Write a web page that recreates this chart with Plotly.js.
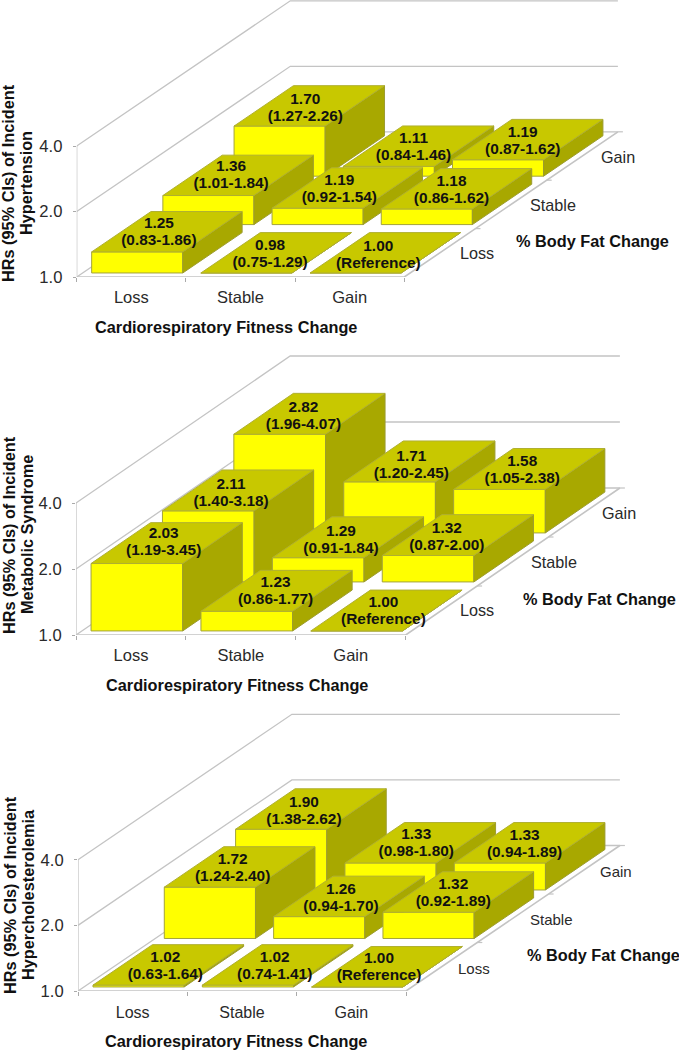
<!DOCTYPE html>
<html><head><meta charset="utf-8">
<script src="https://cdn.plot.ly/plotly-3.0.1.min.js"></script>
<style>html,body{margin:0;padding:0;background:#fff}</style></head>
<body><div id="chart" style="width:679px;height:1050px"></div>
<script>
const fitnessLevels = ['Loss','Stable','Gain'];
const fatLevels = ['Loss','Stable','Gain'];
const yTickValues = [1,2,4];
const yTickLabels = ['1.0','2.0','4.0'];
// rows: body-fat Loss, Stable, Gain; columns: fitness Loss, Stable, Gain
const hypertensionHR = [[1.25,0.98,1.00],[1.36,1.19,1.18],[1.70,1.11,1.19]];
const hypertensionCI = [['(0.83-1.86)','(0.75-1.29)','(Reference)'],['(1.01-1.84)','(0.92-1.54)','(0.86-1.62)'],['(1.27-2.26)','(0.84-1.46)','(0.87-1.62)']];
const metabolicHR = [[2.03,1.23,1.00],[2.11,1.29,1.32],[2.82,1.71,1.58]];
const metabolicCI = [['(1.19-3.45)','(0.86-1.77)','(Reference)'],['(1.40-3.18)','(0.91-1.84)','(0.87-2.00)'],['(1.96-4.07)','(1.20-2.45)','(1.05-2.38)']];
const cholesterolHR = [[1.02,1.02,1.00],[1.72,1.26,1.32],[1.90,1.33,1.33]];
const cholesterolCI = [['(0.63-1.64)','(0.74-1.41)','(Reference)'],['(1.24-2.40)','(0.94-1.70)','(0.92-1.89)'],['(1.38-2.62)','(0.98-1.80)','(0.94-1.89)']];

const W=679,H=1050;
const FONT='"Liberation Sans", Arial, sans-serif';
const GRID='#c4c4c4', TOPC='#c8c800', SIDEC='#a8a800', FRONTC='#ffff00', EDGE='#a3a33c', TXT='#111111', TICKTXT='#2a2a2a';
const panels=[
 {hr:hypertensionHR,ci:hypertensionCI,name:'Hypertension',left:76.7,right:404.3,top:0,bottom:277,unit:65.5,dx:71.2,dy:48.4,
  xLabelY:297,xTitle:[225.5,327],fatTitle:[592,241],yT1:[8,183],yT2:[26,183],zLab:[[477,253],[553,205],[618,157]],zSize:16.2,xSize:16.5,standoff:8,
  nudge:[[[-3,1],[-1,2],[-2,3]],[[-2,0],[-3,2],[0,2]],[[1,2.5],[0,1.5],[0,2]]]},
 {hr:metabolicHR,ci:metabolicCI,name:'Metabolic Syndrome',left:76,right:405.7,top:350,bottom:635,unit:66,dx:71.4,dy:49,
  xLabelY:655,xTitle:[237,685],fatTitle:[599,599],yT1:[9,535],yT2:[27,535],zLab:[[477,610],[554,562],[619,513]],zSize:16.2,xSize:16.5,standoff:8,
  nudge:[[[2,0],[4,1],[2,1]],[[-2,3],[-2,3],[-6,3]],[[-1,3],[-3,4],[-2,2]]]},
 {hr:cholesterolHR,ci:cholesterolCI,name:'Hypercholesterolemia',left:78,right:406,top:708,bottom:991,unit:65.6,dx:71.3,dy:48.5,
  xLabelY:1012,xTitle:[236,1041],fatTitle:[603,955],yT1:[10,895],yT2:[28,895],zLab:[[474,968],[551,919],[616,871]],zSize:15,xSize:16,standoff:10,
  nudge:[[[2,2],[2,2],[-3,1]],[[-2,1.5],[-3,2],[0,2]],[[-2,3],[1,1],[0,2]]]}
];
const traces=[],ann=[],layout={width:W,height:H,margin:{l:0,r:0,t:0,b:0},paper_bgcolor:'#fff',plot_bgcolor:'rgba(0,0,0,0)',showlegend:false,font:{family:FONT},hovermode:false,annotations:ann};
const lab=(text,x,y,size,bold,angle,color)=>ann.push({text:bold?'<b>'+text+'</b>':text,x:x/W,y:1-y/H,xref:'paper',yref:'paper',xanchor:'center',yanchor:'middle',showarrow:false,textangle:angle||0,font:{family:FONT,size:size,color:color||TXT}});

panels.forEach((p,k)=>{
  const id=k?String(k+1):'';
  const xa='x'+id, ya='y'+id;
  const catW=(p.right-p.left)/3;
  const kx=p.dx/catW, ky=p.dy/p.unit;
  // oblique projection of (fitness position, fat position, HR) on the subplot's axes
  const px=(c,z)=>c+z*kx;
  const py=(z,v)=>Math.log2(v)+z*ky;
  const add=(o)=>traces.push(Object.assign({xaxis:xa,yaxis:ya,type:'scatter',cliponaxis:false,hoverinfo:'skip',showlegend:false},o));
  const seg=(pts,color,w)=>add({mode:'lines',x:pts.map(q=>px(q[0],q[1])),y:pts.map(q=>py(q[1],q[2])),line:{color:color,width:w||1.2}});
  const face=(pts,fill,edge)=>add({mode:'lines',fill:'toself',fillcolor:fill,x:pts.map(q=>px(q[0],q[1])),y:pts.map(q=>py(q[1],q[2])),line:{color:edge,width:1}});
  // walls and floor
  yTickValues.forEach(v=>seg([[0,0,v],[0,3,v],[3,3,v]],GRID,1.3));
  seg([[0,0,1],[0,0,4]],GRID,1.3);
  seg([[0,0,1],[3,0,1],[3,3,1]],GRID,1.6);
  // depth-axis tick marks
  [1,2,3].forEach(z=>{
    const x=px(3,z),y=py(z,1);
    add({mode:'lines',x:[x,x+5/catW],y:[y,y],line:{color:GRID,width:1.2}});
  });
  // bars, back to front and left to right
  const gap=0.083;
  for(let r=2;r>=0;r--){
    for(let c=0;c<3;c++){
      const v=Math.max(p.hr[r][c],1);
      const c0=c+gap,c1=c+1-gap,z0=r+gap,z1=r+1-gap;
      face([[c0,z0,1],[c1,z0,1],[c1,z0,v],[c0,z0,v],[c0,z0,1]],FRONTC,EDGE);
      face([[c1,z0,1],[c1,z1,1],[c1,z1,v],[c1,z0,v],[c1,z0,1]],SIDEC,'#9c9c30');
      face([[c0,z0,v],[c1,z0,v],[c1,z1,v],[c0,z1,v],[c0,z0,v]],TOPC,'#b0b030');
    }
  }
  // value labels centred on each bar's top face
  const tx=[],ty1=[],ty2=[],t1=[],t2=[];
  const sx=-5/catW, sl=8.5/p.unit;
  for(let r=0;r<3;r++)for(let c=0;c<3;c++){
    const v=Math.max(p.hr[r][c],1);
    const n=p.nudge[r][c];
    tx.push(px(c+.5,r+.5)+sx+n[0]/catW); const yy=py(r+.5,v)-n[1]/p.unit;
    ty1.push(yy+sl); ty2.push(yy-sl);
    t1.push(p.hr[r][c].toFixed(2)); t2.push(p.ci[r][c]);
  }
  const tf={family:FONT,size:15.4,color:TXT,weight:700};
  add({mode:'text',x:tx,y:ty1,text:t1,textposition:'middle center',textfont:tf});
  add({mode:'text',x:tx,y:ty2,text:t2,textposition:'middle center',textfont:tf});
  // axes
  const xName='xaxis'+id,yName='yaxis'+id;
  layout[xName]={domain:[p.left/W,1],range:[0,(W-p.left)/catW],anchor:ya,showgrid:false,zeroline:false,showline:false,
    tickmode:'array',tickvals:[0.5,1.5,2.5],ticktext:fitnessLevels,ticks:'',ticklabelstandoff:p.standoff,
    tickfont:{family:FONT,size:p.xSize,color:TICKTXT},
    minor:{tickmode:'array',tickvals:[0,1,2,3],ticks:'outside',ticklen:4,tickcolor:'#aaaaaa',tickwidth:1,showgrid:false}};
  layout[yName]={domain:[1-p.bottom/H,1-p.top/H],range:[0,(p.bottom-p.top)/p.unit],anchor:xa,showgrid:false,zeroline:false,showline:false,
    tickmode:'array',tickvals:yTickValues.map(Math.log2),ticktext:yTickLabels,ticks:'outside',ticklen:3,tickcolor:'#aaaaaa',tickwidth:1,ticklabelstandoff:7,
    tickfont:{family:FONT,size:16.6,color:TICKTXT}};
  // titles and depth labels
  lab('Cardiorespiratory Fitness Change',p.xTitle[0],p.xTitle[1],16.3,true);
  lab('% Body Fat Change',p.fatTitle[0],p.fatTitle[1],16.3,true);
  lab('HRs (95% CIs) of Incident',p.yT1[0],p.yT1[1],16.3,true,-90);
  lab(p.name,p.yT2[0],p.yT2[1],16.3,true,-90);
  fatLevels.forEach((t,i)=>lab(t,p.zLab[i][0],p.zLab[i][1],p.zSize,false,0,TICKTXT));
});
Plotly.newPlot('chart',traces,layout,{displayModeBar:false,staticPlot:true});
</script></body></html>
